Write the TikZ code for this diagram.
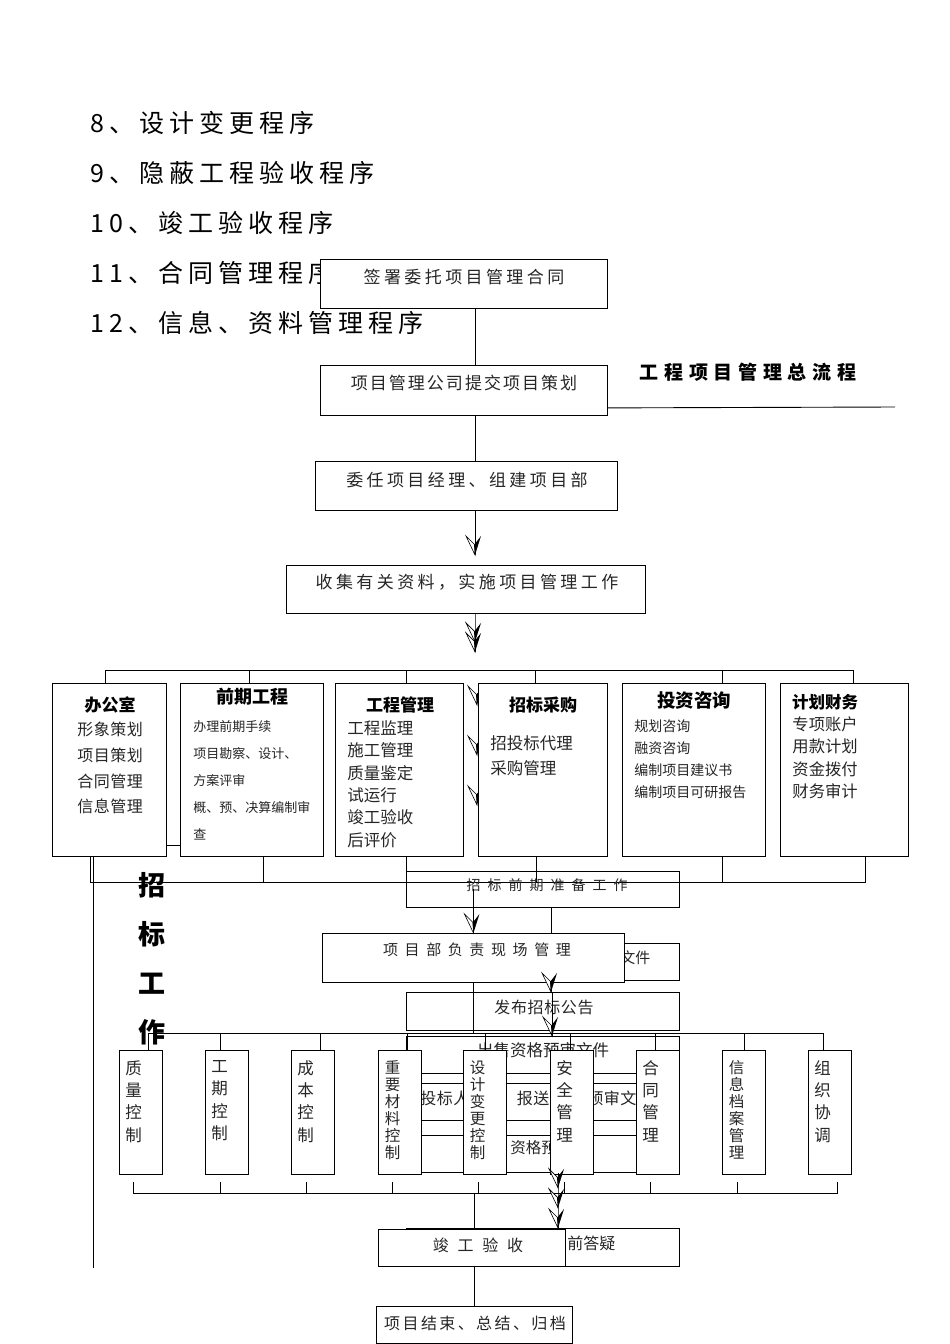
\documentclass[tikz,border=0pt]{standalone}
\usepackage{fontspec}
\setmainfont{Noto Sans CJK SC}
\newcommand{\zhf}[3]{\fontsize{#1}{#2}\selectfont\addfontfeature{LetterSpace=#3}}

\begin{document}
\begin{tikzpicture}[x=1pt,y=-1pt,line width=0.9pt,
  bx/.style={draw,fill=white,inner sep=0pt,anchor=north west},
  ob/.style={draw,inner sep=0pt,anchor=north west},
  tx/.style={inner sep=0pt,text=black!85},
  lst/.style={inner sep=0pt,anchor=west,font=\zhf{25}{25}{20}},
  hd/.style={inner sep=0pt,text=black},
  col/.style={inner sep=0pt,anchor=north,align=center,text=black!85},
  itm/.style={inner sep=0pt,anchor=north west,align=left,text=black!85},
  hfhead/.pic={\draw[fill=white,line width=0.6pt] (0,0) -- (-9,-19) -- (0,-10) -- cycle;
    \fill[black] (0,0) -- (-1,-10) -- (6,-19) -- cycle;}]
\useasboundingbox (0,0) rectangle (950,1344);

% list of procedures
\node[lst] (p8) at (90,123) {8、设计变更程序};
\node[lst] (p9) at (90,173) {9、隐蔽工程验收程序};
\node[lst] (p10) at (90,223) {10、竣工验收程序};
\node[lst] (p11) at (90,273) {11、合同管理程序};
\node[lst] (p12) at (90,323) {12、信息、资料管理程序};

% main flow
\coordinate (spine) at (475,0);
\node[bx,minimum width=287,minimum height=49] (contract) at (320,259) {};
\node[tx,font=\zhf{17}{17}{20}] (contracttx) at (464,277) {签署委托项目管理合同};
\node[bx,minimum width=287,minimum height=50] (plan) at (320,365) {};
\node[tx,font=\zhf{17}{17}{12}] (plantx) at (464,383) {项目管理公司提交项目策划};
\draw (contract.south -| spine) -- (plan.north -| spine);
\node[hd,font={\fontsize{19}{19}\selectfont\bfseries\addfontfeature{LetterSpace=30}}] (title) at (748,372) {工程项目管理总流程};
\coordinate (tline) at (895,407);
\draw (plan.south east) ++(0,-8) -- (tline);
\node[bx,minimum width=302,minimum height=49] (pm) at (315,461) {};
\node[tx,font=\zhf{17}{17}{20}] (pmtx) at (467,480) {委任项目经理、组建项目部};
\draw (plan.south -| spine) -- (pm.north -| spine);
\node[bx,minimum width=359,minimum height=48] (collect) at (286,565) {};
\node[tx,font=\zhf{17}{17}{20}] (collecttx) at (467,582) {收集有关资料，实施项目管理工作};
\coordinate (arr1) at (475,555);
\draw (pm.south -| spine) -- (arr1) pic {hfhead};
\draw (collect.south -| spine) -- ++(0,28) pic {hfhead} -- ++(0,10) pic {hfhead};

% departments
\coordinate (topL) at (105,670);
\coordinate (topR) at (853,670);
\pic at (477,705) {hfhead};
\pic at (477,755) {hfhead};
\pic at (477,805) {hfhead};
\node[bx,minimum width=114,minimum height=173] (office) at (52,683) {};
\node[bx,minimum width=143,minimum height=173] (early) at (180,683) {};
\node[bx,minimum width=128,minimum height=173] (eng) at (335,683) {};
\node[bx,minimum width=129,minimum height=173] (bid) at (478,683) {};
\node[bx,minimum width=143,minimum height=173] (invest) at (622,683) {};
\node[bx,minimum width=128,minimum height=173] (finance) at (780,683) {};
\draw (office.north -| topL) -- (topL) -- (topR) -- (finance.north -| topR);
\draw (early.north -| 249,0) -- +(0,-13);
\draw (eng.north -| 406,0) -- +(0,-13);
\draw (bid.north -| 535,0) -- +(0,-13);
\draw (invest.north -| 722,0) -- +(0,-13);

\node[hd,font={\fontsize{17}{17}\selectfont\bfseries}] (officehd) at (110,705) {办公室};
\node[itm,font=\zhf{16}{25.6}{3}] (officetx) at (77,722) {形象策划\\项目策划\\合同管理\\信息管理};
\node[hd,font={\fontsize{18}{18}\selectfont\bfseries}] (earlyhd) at (252,697) {前期工程};
\node[itm,font=\zhf{13}{27}{0}] (earlytx) at (193,720.5) {办理前期手续\\项目勘察、设计、\\方案评审\\概、预、决算编制审\\查};
\node[hd,font={\fontsize{17}{17}\selectfont\bfseries}] (enghd) at (400,705) {工程管理};
\node[itm,font=\zhf{16.5}{22.4}{0}] (engtx) at (347,720) {工程监理\\施工管理\\质量鉴定\\试运行\\竣工验收\\后评价};
\node[hd,font={\fontsize{17}{17}\selectfont\bfseries}] (bidhd) at (543,705) {招标采购};
\node[itm,font=\zhf{16.5}{25}{0}] (bidtx) at (490,735) {招投标代理\\采购管理};
\node[hd,font={\fontsize{18.5}{18.5}\selectfont\bfseries}] (investhd) at (694,700) {投资咨询};
\node[itm,font=\zhf{14}{22}{0}] (investtx) at (634,719) {规划咨询\\融资咨询\\编制项目建议书\\编制项目可研报告};
\node[hd,font={\fontsize{16.5}{16.5}\selectfont\bfseries}] (financehd) at (825,702) {计划财务};
\node[itm,font=\zhf{16.3}{22.4}{0}] (financetx) at (792,716) {专项账户\\用款计划\\资金拨付\\财务审计};

% lines below departments
\coordinate (busL) at (90,882);
\coordinate (busR) at (865,882);
\coordinate (lend) at (93,1268);
\draw (office.south -| busL) -- (busL) -- (busR) -- (finance.south -| busR);
\draw (office.south -| lend) -- (lend);
\draw (office.east |- 0,845) -- (early.west |- 0,845);
\draw (early.south -| 263,0) -- +(0,26);
\draw (bid.south -| 536,0) -- +(0,26);
\draw (invest.south -| 722,0) -- +(0,26);

% bidding work
\node[col,font={\fontsize{27}{49}\selectfont\bfseries},text=black] (bidwork) at (152,871.5) {招\\标\\工\\作};
\node[ob,minimum width=273,minimum height=36] (prep) at (406,871) {};
\node[tx,font=\zhf{14}{14}{50}] (preptx) at (547,885) {招标前期准备工作};
\draw (eng.south -| prep.north west) -- (prep.north west);
\node[ob,minimum width=273,minimum height=37] (docs) at (406,943) {};
\node[tx,font=\zhf{15}{15}{0},anchor=west] (docstx) at (620,958) {文件};
\node[ob,minimum width=273,minimum height=38] (notice) at (406,992) {};
\node[tx,font=\zhf{16}{16}{4}] (noticetx) at (544,1007) {发布招标公告};
\draw (prep.south -| 551,0) -- (notice.north -| 551,0);
\node[bx,minimum width=302,minimum height=49] (site) at (322,933) {};
\node[tx,font=\zhf{15}{15}{44}] (sitetx) at (477,950) {项目部负责现场管理};
\draw (prep.center -| site.north) -- (site.north) pic {hfhead};
\pic at (551,992) {hfhead};
\node[ob,minimum width=273,minimum height=37] (sell) at (406,1036) {};
\node[tx,font=\zhf{16.5}{16.5}{0}] (selltx) at (543,1050) {出售资格预审文件};
\draw (notice.north -| 552,0) -- (sell.north -| 552,0) pic {hfhead};
\node[ob,minimum width=273,minimum height=37] (apply) at (406,1083) {};
\node[tx,font=\zhf{16}{16}{3},anchor=west] (applytx1) at (420,1098) {投标人};
\node[tx,font=\zhf{16}{16}{3},anchor=west] (applytx2) at (500,1098) {、报送};
\node[tx,font=\zhf{16}{16}{3},anchor=west] (applytx3) at (587,1098) {预审文};
\node[ob,minimum width=273,minimum height=37] (prequal) at (406,1135) {};
\node[tx,font=\zhf{15.5}{15.5}{0},anchor=west] (prequaltx) at (510,1148) {资格预};
\coordinate (sbusL) at (148,1033);
\coordinate (sbusR) at (823,1033);
\draw (site.south) -- (site.south |- sbusL);
\draw (sbusL) -- (sbusR);

% control items
\node[bx,minimum width=43,minimum height=124] (q1) at (119,1050) {};
\node[bx,minimum width=43,minimum height=124] (q2) at (205,1050) {};
\node[bx,minimum width=43,minimum height=124] (q3) at (291,1050) {};
\node[bx,minimum width=43,minimum height=124] (q4) at (378,1050) {};
\node[bx,minimum width=43,minimum height=124] (q5) at (463,1050) {};
\node[bx,minimum width=43,minimum height=124] (q6) at (550,1050) {};
\node[bx,minimum width=43,minimum height=124] (q7) at (636,1050) {};
\node[bx,minimum width=43,minimum height=124] (q8) at (722,1050) {};
\node[bx,minimum width=43,minimum height=124] (q9) at (808,1050) {};
\node[col,font=\zhf{16.5}{22.3}{0}] (q1tx) at (133.5,1060) {质\\量\\控\\制};
\node[col,font=\zhf{16.5}{22.3}{0}] (q2tx) at (219.5,1060) {工\\期\\控\\制};
\node[col,font=\zhf{16.5}{22.3}{0}] (q3tx) at (305.5,1060) {成\\本\\控\\制};
\node[col,font=\zhf{15.5}{17}{0}] (q4tx) at (392.5,1060) {重\\要\\材\\料\\控\\制};
\node[col,font=\zhf{15.5}{17}{0}] (q5tx) at (477.5,1060) {设\\计\\变\\更\\控\\制};
\node[col,font=\zhf{16.5}{22.3}{0}] (q6tx) at (564.5,1060) {安\\全\\管\\理};
\node[col,font=\zhf{16.5}{22.3}{0}] (q7tx) at (650.5,1060) {合\\同\\管\\理};
\node[col,font=\zhf{15.5}{17}{0}] (q8tx) at (736.5,1060) {信\\息\\档\\案\\管\\理};
\node[col,font=\zhf{16.5}{22.3}{0}] (q9tx) at (822.5,1060) {组\\织\\协\\调};
\draw (q1.north -| 148,0) -- +(0,-17);
\draw (q2.north -| 220,0) -- +(0,-17);
\draw (q3.north -| 320,0) -- +(0,-17);
\draw (q4.north -| 407,0) -- +(0,-17);
\draw (q5.north -| 485,0) -- +(0,-17);
\draw (q6.north -| 570,0) -- +(0,-17);
\draw (q7.north -| 655,0) -- +(0,-17);
\draw (q8.north -| 744,0) -- +(0,-17);
\draw (q9.north -| 823,0) -- +(0,-17);

\coordinate (bbusL) at (133,1193);
\coordinate (bbusR) at (837,1193);
\coordinate (bbus) at (474,1193);
\draw (bbusL) -- (bbusR);
\draw (q1.south -| 133,0) ++(0,7) -- ++(0,12);
\draw (q2.south -| 220,0) ++(0,7) -- ++(0,12);
\draw (q3.south -| 306,0) ++(0,7) -- ++(0,12);
\draw (q4.south -| 392,0) ++(0,7) -- ++(0,12);
\draw (q5.south -| 478,0) ++(0,7) -- ++(0,12);
\draw (q6.south -| 564,0) ++(0,7) -- ++(0,12);
\draw (q7.south -| 650,0) ++(0,7) -- ++(0,12);
\draw (q8.south -| 737,0) ++(0,7) -- ++(0,12);
\draw (q9.south -| 837,0) ++(0,7) -- ++(0,12);

% acceptance and closing
\node[ob,minimum width=273,minimum height=38] (qa) at (406,1228) {};
\node[tx,font=\zhf{16}{16}{0},anchor=west] (qatx) at (567,1243) {前答疑};
\draw (prequal.south -| 558,0) -- ++(0,15) pic {hfhead} -- ++(0,20) pic {hfhead} -- (qa.north -| 558,0) pic {hfhead};
\node[bx,minimum width=187,minimum height=37] (final) at (378,1229) {};
\node[tx,font=\zhf{16}{16}{55}] (finaltx) at (478,1245) {竣工验收};
\draw (bbus) -- (bbus |- final.north);
\node[bx,minimum width=196,minimum height=37] (close) at (376,1306) {};
\node[tx,font=\zhf{16}{16}{15}] (closetx) at (475,1323) {项目结束、总结、归档};
\draw (final.south -| close.north) -- (close.north);
\end{tikzpicture}
\end{document}
